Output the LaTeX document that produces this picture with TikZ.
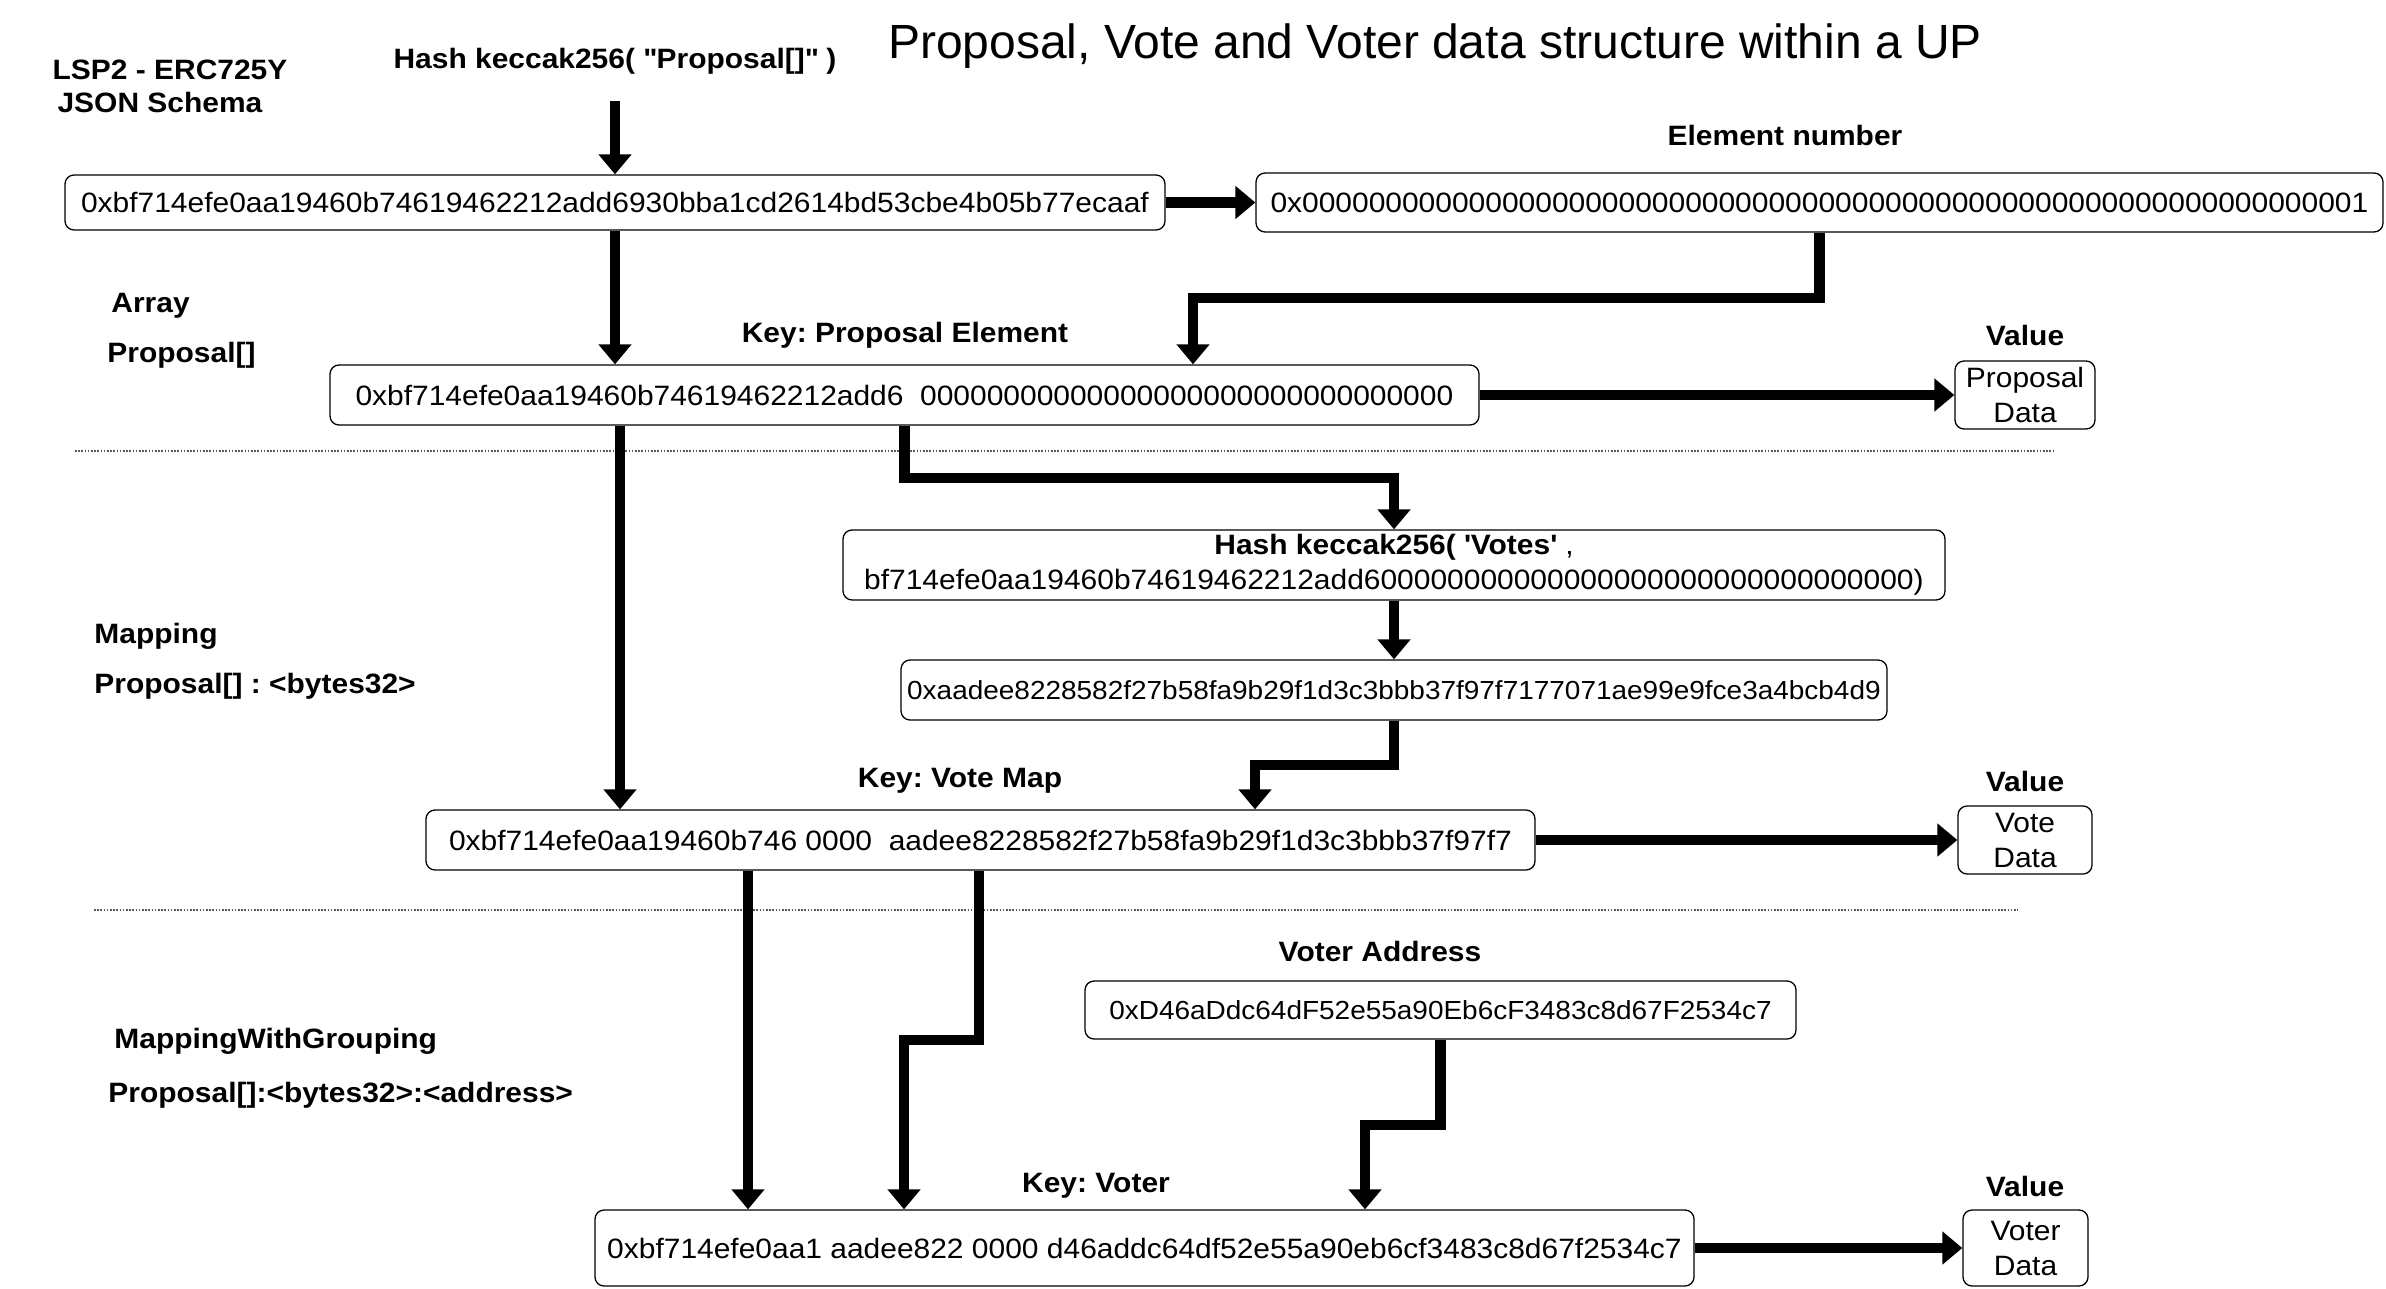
\documentclass[tikz,border=0pt]{standalone}
\usepackage{fontspec}
\setmainfont[FakeStretch=1.07]{Liberation Sans}
\newfontfamily\titlefont{Liberation Sans}
\usetikzlibrary{arrows.meta}
\frenchspacing
\begin{document}
\begin{tikzpicture}[x=0.5pt,y=-0.5pt,
  box/.style={draw, line width=0.65pt, rounded corners=4.5pt, inner sep=0pt, align=center, font=\fontsize{14}{17.5}\selectfont},
  smallbox/.style={box, font=\fontsize{13.07}{15}\selectfont},
  lbl/.style={inner sep=0pt, font=\fontsize{14}{16}\selectfont\bfseries\frenchspacing},
  arr/.style={line width=5.25pt, line join=miter, -{Triangle[length=10pt,width=16pt]}},
  sep/.style={line width=0.6pt, black!65, dash pattern=on 0.8pt off 0.8pt},
]
\useasboundingbox (0,0) rectangle (2386,1289);

% title and side labels
\node[inner sep=0pt, font=\titlefont\fontsize{24}{28}\selectfont] (title) at (1435,46) {Proposal, Vote and Voter data structure within a UP};
\node[lbl] (lsp) at (170,70) {LSP2 - ERC725Y};
\node[lbl] (json) at (160,102) {JSON Schema};
\node[lbl] (hashlbl) at (615,61) {Hash keccak256( \textquotedbl Proposal[]\textquotedbl{} )};
\node[lbl] (elnum) at (1785,135) {Element number};
\node[lbl, anchor=west] (arr1) at (111,306) {Array};
\node[lbl, anchor=west] (arr2) at (107,355) {Proposal[]};
\node[lbl] (keyprop) at (905,335) {Key: Proposal Element};
\node[lbl] (val1lbl) at (2025,335) {Value};
\node[lbl, anchor=west] (map1) at (94,636) {Mapping};
\node[lbl, anchor=west] (map2) at (94,686) {Proposal[] : <bytes32>};
\node[lbl] (keyvote) at (960,781) {Key: Vote Map};
\node[lbl] (val2lbl) at (2025,781) {Value};
\node[lbl, anchor=west] (mg1) at (114,1041) {MappingWithGrouping};
\node[lbl, anchor=west] (mg2) at (108,1095) {Proposal[]:<bytes32>:<address>};
\node[lbl] (voteraddrlbl) at (1380,951) {Voter Address};
\node[lbl] (keyvoter) at (1096,1186) {Key: Voter};
\node[lbl] (val3lbl) at (2025,1186) {Value};

% boxes
\node[box, minimum width=550pt, minimum height=27.5pt] (b1) at (615,202.5) {0xbf714efe0aa19460b74619462212add6930bba1cd2614bd53cbe4b05b77ecaaf};
\node[box, minimum width=563.5pt, minimum height=29.5pt] (b2) at (1819.5,202.5) {0x0000000000000000000000000000000000000000000000000000000000000001};
\node[box, minimum width=574.5pt, minimum height=30pt] (b3) at (904.5,395) {0xbf714efe0aa19460b74619462212add6~~00000000000000000000000000000000};
\node[box, minimum width=70pt, minimum height=34pt] (v1) at (2025,395) {Proposal\\Data};
\node[box, minimum width=551pt, minimum height=35pt] (hv) at (1394,565) {\textbf{Hash keccak256( \textquotesingle Votes\textquotesingle} ,\\bf714efe0aa19460b74619462212add600000000000000000000000000000000)};
\node[smallbox, minimum width=493pt, minimum height=30pt] (ad) at (1394,690) {0xaadee8228582f27b58fa9b29f1d3c3bbb37f97f7177071ae99e9fce3a4bcb4d9};
\node[box, minimum width=554.5pt, minimum height=30pt] (vm) at (980.5,840) {0xbf714efe0aa19460b746 0000~~aadee8228582f27b58fa9b29f1d3c3bbb37f97f7};
\node[box, minimum width=67pt, minimum height=34pt] (v2) at (2025,840) {Vote\\Data};
\node[smallbox, minimum width=355.5pt, minimum height=29pt] (va) at (1440.5,1010) {0xD46aDdc64dF52e55a90Eb6cF3483c8d67F2534c7};
\node[box, minimum width=549.5pt, minimum height=38pt] (vt) at (1144.5,1248) {0xbf714efe0aa1 aadee822 0000 d46addc64df52e55a90eb6cf3483c8d67f2534c7};
\node[box, minimum width=62.5pt, minimum height=38pt] (v3) at (2025.5,1248) {Voter\\Data};

% separators
\draw[sep] (75,451) -- (2054,451);
\draw[sep] (94,910) -- (2018,910);

% helper coordinates
\coordinate (k1) at (1193,298);
\coordinate (k2) at (1394,478);
\coordinate (k3) at (1255,765);
\coordinate (k4) at (904,1040);
\coordinate (k5) at (1365,1125);
\coordinate (c1) at (620,0);
\coordinate (c2) at (748,0);
\coordinate (c3) at (979,0);

% connectors
\draw[arr] ([yshift=-13.5pt]hashlbl.south) -- (b1.north);
\draw[arr] (b1.east) -- (b2.west);
\draw[arr] (b2.south) |- (k1) -- (k1 |- b3.north);
\draw[arr] (b1.south) -- (b1.south |- b3.north);
\draw[arr] (b3.east) -- (v1.west);
\draw[arr] (b3.south -| c1) -- (vm.north -| c1);
\draw[arr] (b3.south) |- (k2) -- (hv.north);
\draw[arr] (hv.south) -- (ad.north);
\draw[arr] (ad.south) |- (k3) -- (k3 |- vm.north);
\draw[arr] (vm.east) -- (v2.west);
\draw[arr] (vm.south -| c2) -- (vt.north -| c2);
\draw[arr] (vm.south -| c3) |- (k4) -- (k4 |- vt.north);
\draw[arr] (va.south) |- (k5) -- (k5 |- vt.north);
\draw[arr] (vt.east) -- (v3.west);
\end{tikzpicture}
\end{document}
